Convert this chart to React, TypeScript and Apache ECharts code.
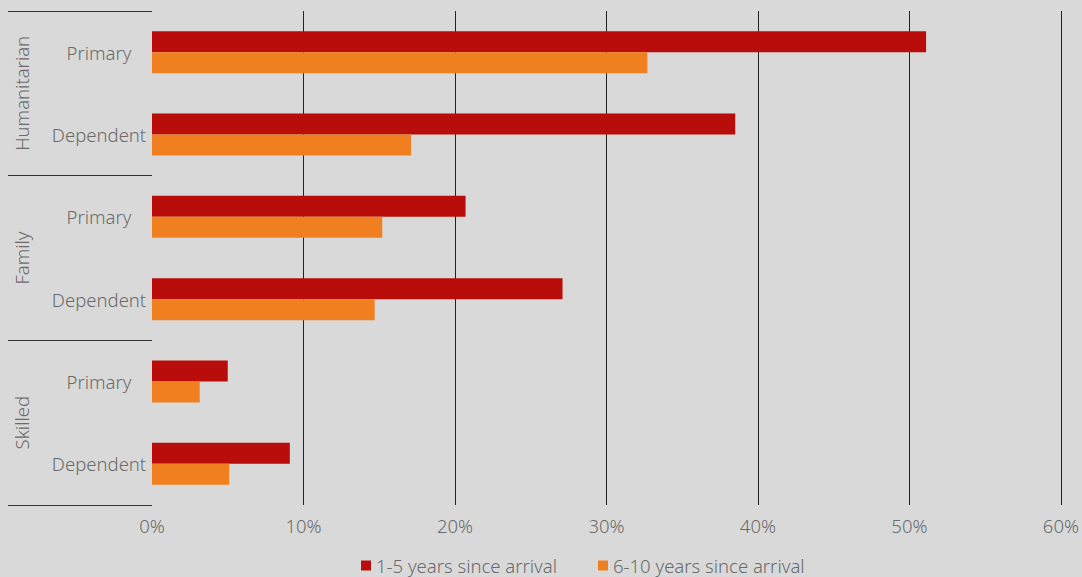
import React, { useEffect, useRef } from "react";
import * as echarts from "echarts";

const categories = ["Primary", "Dependent", "Primary", "Dependent", "Primary", "Dependent"];
const groups = ["Humanitarian", "Family", "Skilled"];
const seriesNames = ["1-5 years since arrival", "6-10 years since arrival"];
const years1to5 = [51.1, 38.5, 20.7, 27.1, 5.0, 9.1];
const years6to10 = [32.7, 17.1, 15.2, 14.7, 3.15, 5.1];
const xTicks = { min: 0, max: 60, interval: 10 };

const FONT = "Noto Sans";
const TEXT = "#6b6b6b";
const FS = 18.5;

export default function App() {
  const ref = useRef<HTMLDivElement>(null);
  useEffect(() => {
    if (!ref.current) return;
    const chart = echarts.init(ref.current, null, { renderer: "svg" });
    chart.setOption({
      animation: false,
      backgroundColor: "#d9d9d9",
      textStyle: { fontFamily: FONT },
      grid: { left: 152, right: 19, top: 11, bottom: 72, containLabel: false },
      legend: {
        data: seriesNames,
        left: 361,
        bottom: 2,
        padding: 0,
        icon: "rect",
        itemWidth: 10,
        itemHeight: 10,
        itemGap: 41,
        textStyle: { color: TEXT, fontSize: FS, fontFamily: FONT, fontWeight: 300 },
      },
      xAxis: {
        type: "value",
        min: xTicks.min,
        max: xTicks.max,
        interval: xTicks.interval,
        axisLine: { show: false },
        axisTick: { show: false },
        axisLabel: {
          formatter: "{value}%",
          color: TEXT,
          fontSize: FS,
          fontFamily: FONT,
          fontWeight: 300,
          margin: 11,
        },
        splitLine: {
          show: true,
          showMinLine: false,
          lineStyle: { color: "#222", width: 1 },
        },
      },
      yAxis: [
        {
          type: "category",
          data: categories,
          inverse: true,
          axisLine: { show: false },
          axisTick: { show: false },
          axisLabel: {
            color: TEXT,
            fontSize: FS,
            fontFamily: FONT,
            fontWeight: 300,
            align: "center",
            margin: 53,
            interval: 0,
            padding: [0, 0, 10, 0],
          },
        },
        {
          type: "category",
          data: groups,
          inverse: true,
          position: "left",
          axisLine: { show: false },
          axisTick: {
            show: true,
            length: 144,
            interval: 0,
            lineStyle: { color: "#333", width: 1 },
          },
          axisLabel: {
            color: TEXT,
            fontSize: FS,
            fontFamily: FONT,
            fontWeight: 300,
            rotate: 90,
            align: "center",
            verticalAlign: "middle",
            margin: 131,
            interval: 0,
          },
        },
      ],
      series: [
        {
          name: seriesNames[0],
          type: "bar",
          yAxisIndex: 0,
          data: years1to5,
          barWidth: 21,
          barGap: "0%",
          itemStyle: { color: "#b80d0b" },
        },
        {
          name: seriesNames[1],
          type: "bar",
          yAxisIndex: 0,
          data: years6to10,
          barWidth: 21,
          barGap: "0%",
          itemStyle: { color: "#f07f1f" },
        },
      ],
    });
    return () => chart.dispose();
  }, []);
  return (
    <div
      ref={ref}
      style={{ position: "fixed", left: 0, top: 0, width: 1082, height: 577 }}
    />
  );
}
